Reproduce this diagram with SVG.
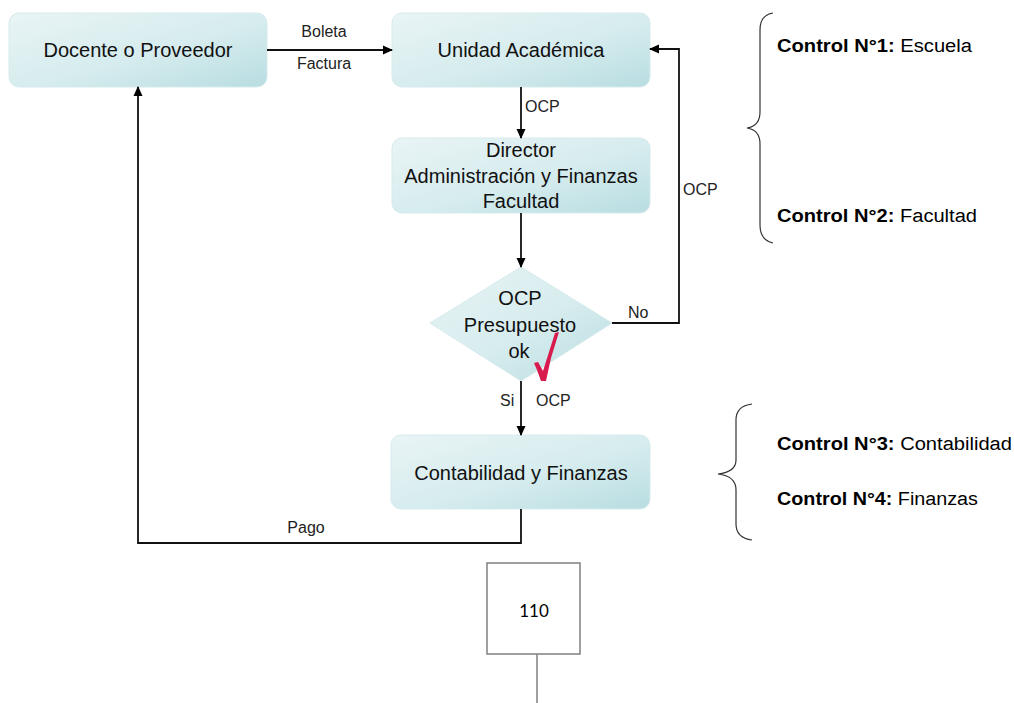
<svg xmlns="http://www.w3.org/2000/svg" width="1014" height="703" viewBox="0 0 1014 703">
<style>
  .box { fill: url(#g); stroke: #d6ebed; stroke-width: 1; }
  .t { font-family: "Liberation Sans", Arial, sans-serif; font-size: 20px; fill: #111; text-anchor: middle; }
  .l { font-family: "Liberation Sans", Arial, sans-serif; font-size: 16px; fill: #222; }
  .c { font-family: "Liberation Sans", Arial, sans-serif; font-size: 18px; fill: #000; }
  .b { font-weight: bold; }
  .ln { fill: none; stroke: #111; stroke-width: 1.8; }
  .br { fill: none; stroke: #333; stroke-width: 1.2; }
</style>
<defs>
  <linearGradient id="g" x1="0" y1="0" x2="1" y2="1">
    <stop offset="0" stop-color="#e9f4f5"/>
    <stop offset="0.55" stop-color="#d6ecee"/>
    <stop offset="1" stop-color="#b8dde1"/>
  </linearGradient>
  <marker id="a" markerWidth="10" markerHeight="10" refX="9" refY="5" orient="auto" markerUnits="userSpaceOnUse">
    <path d="M0,0.5 L10,5 L0,9.5 Z" fill="#000"/>
  </marker>
</defs>
<rect width="1014" height="703" fill="#fff"/>

<g id="docente">
  <rect class="box" x="9" y="13" width="258" height="74" rx="10"/>
  <text class="t" x="138" y="57">Docente o Proveedor</text>
</g>
<g id="unidad">
  <rect class="box" x="392" y="13" width="258" height="74" rx="10"/>
  <text class="t" x="521" y="57">Unidad Académica</text>
</g>
<g id="director">
  <rect class="box" x="392" y="138" width="258" height="75" rx="10"/>
  <text class="t" x="521" y="157">Director</text>
  <text class="t" x="521" y="183">Administración y Finanzas</text>
  <text class="t" x="521" y="208">Facultad</text>
</g>
<g id="decision">
  <polygon class="box" points="521,267 612,323 521,381 430,323"/>
  <text class="t" x="520" y="305">OCP</text>
  <text class="t" x="520" y="332">Presupuesto</text>
  <text class="t" x="519" y="358">ok</text>
  <path d="M559,332 L551,358 L546,381 L541,381 L537,370 L534,363 L538,362 L543,371 L555,333 Z" fill="#d81b4c"/>
</g>
<g id="contabilidad">
  <rect class="box" x="391" y="435" width="259" height="74" rx="10"/>
  <text class="t" x="521" y="480">Contabilidad y Finanzas</text>
</g>
<g id="page">
  <rect x="487" y="563" width="93" height="91" fill="#fff" stroke="#888" stroke-width="1.6"/>
  <text x="534" y="617" font-family="Lato, 'Open Sans', sans-serif" font-size="17" text-anchor="middle" fill="#000">110</text>
  <line x1="537" y1="654" x2="537" y2="703" stroke="#888" stroke-width="1.6"/>
</g>

<g id="connectors">
  <line class="ln" x1="267" y1="50" x2="392" y2="50" marker-end="url(#a)"/>
  <line class="ln" x1="521" y1="87" x2="521" y2="138" marker-end="url(#a)"/>
  <line class="ln" x1="521" y1="213" x2="521" y2="267" marker-end="url(#a)"/>
  <line class="ln" x1="521" y1="381" x2="521" y2="435" marker-end="url(#a)"/>
  <polyline class="ln" points="612,323 679,323 679,49 650,49" marker-end="url(#a)"/>
  <polyline class="ln" points="521,509 521,543 138,543 138,87" marker-end="url(#a)"/>
  <text class="l" x="324" y="37" text-anchor="middle">Boleta</text>
  <text class="l" x="324" y="69" text-anchor="middle">Factura</text>
  <text class="l" x="525" y="112">OCP</text>
  <text class="l" x="683" y="195">OCP</text>
  <text class="l" x="628" y="318">No</text>
  <text class="l" x="500" y="406">Si</text>
  <text class="l" x="536" y="406">OCP</text>
  <text class="l" x="306" y="533" text-anchor="middle">Pago</text>
</g>

<g id="brace1">
  <path class="br" d="M773,13 Q760,15 760,30 L760,112 Q760,126 747,128 Q760,130 760,144 L760,225 Q760,240 773,243"/>
</g>
<g id="brace2">
  <path class="br" d="M752,404 Q736,406 736,420 L736,460 Q736,472 718,474 Q736,476 736,490 L736,524 Q736,538 752,540"/>
</g>
<g id="controls">
  <text class="c" x="777" y="52" textLength="195" lengthAdjust="spacingAndGlyphs"><tspan class="b">Control N°1:</tspan> Escuela</text>
  <text class="c" x="777" y="222" textLength="200" lengthAdjust="spacingAndGlyphs"><tspan class="b">Control N°2:</tspan> Facultad</text>
  <text class="c" x="777" y="450" textLength="235" lengthAdjust="spacingAndGlyphs"><tspan class="b">Control N°3:</tspan> Contabilidad</text>
  <text class="c" x="777" y="505" textLength="201" lengthAdjust="spacingAndGlyphs"><tspan class="b">Control N°4:</tspan> Finanzas</text>
</g>
</svg>
